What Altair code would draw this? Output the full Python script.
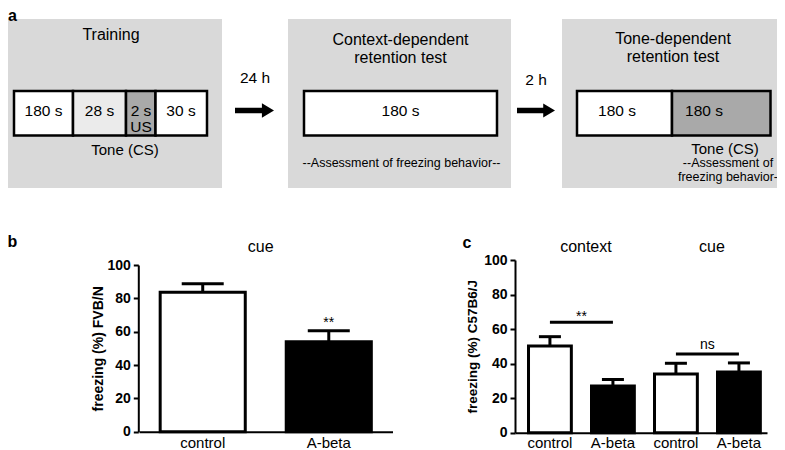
import altair as alt
import pandas as pd

FONT = "Liberation Sans"

# ------------------------------------------------------------------ data
# panel b : FVB/N mice, cue test
b_condition = "cue"
b_groups = ["control", "A-beta"]
b_mean = [83.6, 54.0]
b_sem = [5.1, 6.6]
b_sig = ["", "**"]

# panel c : C57B6/J mice, context and cue tests
c_tests = ["context", "context", "cue", "cue"]
c_groups = ["control", "A-beta", "control", "A-beta"]
c_mean = [50.2, 27.0, 34.0, 35.2]
c_sem = [5.4, 3.8, 6.2, 5.2]
sig_tests = ["context", "cue"]
sig_labels = ["**", "ns"]
sig_levels = [64.0, 45.6]

y_ticks = [0, 20, 40, 60, 80, 100]

# panel a : protocol texts
stage_titles = [["Training"], ["Context-dependent", "retention test"],
                ["Tone-dependent", "retention test"]]
stage_segments = [["180 s", "28 s", "2 s", "30 s"], ["180 s"], ["180 s", "180 s"]]
stage_sublabels = [["", "", "US", ""], [""], ["", ""]]
stage_notes = [["Tone (CS)"], ["--Assessment of freezing behavior--"],
               ["Tone (CS)", "--Assessment of", "freezing behavior-"]]
intervals = ["24 h", "2 h"]
panel_letters = ["a", "b", "c"]

# ------------------------------------------------------------------ layout / style (page pixels)
W, H = 769, 442
PANEL_X = [(0, 222), (288, 511), (562, 785)]
PANEL_Y = (19, 188)
SEG_EDGES = [[14, 73, 126, 155.5, 207], [304, 497], [577, 672, 770.5]]
SEG_Y = (91, 135.5)
SEG_FILLS = [["#ffffff", "#ebebeb", "#a9a9a9", "#ffffff"], ["#ffffff"], ["#ffffff", "#a9a9a9"]]
SEG_TEXT_X = [[43.5, 99.5, 141, 181], [400.5], [617, 704]]
SEG_TEXT_Y, SUB_Y = 110.5, 127
TITLE_X = [111, 400.5, 673]
TITLE_Y = [[35], [40, 58.3], [38.5, 56.7]]
NOTE_POS = [[(125, 150, 15)], [(401.5, 163, 12.5)],
            [(725, 149, 15), (728, 163, 12.5), (728, 176.5, 12.5)]]
ARROW_X = [(235, 274), (517, 555)]
ARROW_Y = 110.5
INTERVAL_POS = [(255, 78), (536, 80)]
LETTER_POS = [(12.5, 16), (12.5, 242), (467, 243)]
ARROW_PATH = "M-1,-0.14L0.38,-0.14L0.38,-0.37L1,0L0.38,0.37L0.38,0.14L-1,0.14Z"
TXT = 15.5

PX = alt.Scale(domain=[8, 8 + W], range=[0, W], nice=False, zero=False)
PY = alt.Scale(domain=[8, 8 + H], range=[0, H], nice=False, zero=False)

# ------------------------------------------------------------------ panel a (schematic)
panels = pd.DataFrame({"x0": [p[0] for p in PANEL_X], "x1": [p[1] for p in PANEL_X],
                       "y0": PANEL_Y[0], "y1": PANEL_Y[1]})
seg_rows, text_rows = [], []
for i, segs in enumerate(stage_segments):
    edges = SEG_EDGES[i]
    for j, lab in enumerate(segs):
        seg_rows.append({"x0": edges[j], "x1": edges[j + 1], "y0": SEG_Y[0], "y1": SEG_Y[1],
                         "fill": SEG_FILLS[i][j]})
        text_rows.append({"text": lab, "x": SEG_TEXT_X[i][j], "y": SEG_TEXT_Y, "size": TXT})
        if stage_sublabels[i][j]:
            text_rows.append({"text": stage_sublabels[i][j], "x": SEG_TEXT_X[i][j], "y": SUB_Y, "size": TXT})
    for k, t in enumerate(stage_titles[i]):
        text_rows.append({"text": t, "x": TITLE_X[i], "y": TITLE_Y[i][k], "size": 16})
    for k, t in enumerate(stage_notes[i]):
        x, y, s = NOTE_POS[i][k]
        text_rows.append({"text": t, "x": x, "y": y, "size": s})
for k, t in enumerate(intervals):
    text_rows.append({"text": t, "x": INTERVAL_POS[k][0], "y": INTERVAL_POS[k][1], "size": TXT})
segs_df = pd.DataFrame(seg_rows)
texts_df = pd.DataFrame(text_rows)
arrows_df = pd.DataFrame({"x": [(a + b) / 2 for a, b in ARROW_X], "y": ARROW_Y,
                          "size": [(b - a) ** 2 for a, b in ARROW_X]})
letters_df = pd.DataFrame({"text": panel_letters, "x": [p[0] for p in LETTER_POS],
                           "y": [p[1] for p in LETTER_POS]})

px = lambda f: alt.X(f, type="quantitative", scale=PX, axis=None)
py = lambda f: alt.Y(f, type="quantitative", scale=PY, axis=None)

grey = alt.Chart(panels).mark_rect(fill="#d9d9d9").encode(
    x=px("x0"), x2="x1", y=py("y0"), y2="y1")
boxes = alt.Chart(segs_df).mark_rect(stroke="black", strokeWidth=2.5).encode(
    x=px("x0"), x2="x1", y=py("y0"), y2="y1", fill=alt.Fill("fill:N", scale=None))
labels = alt.Chart(texts_df).mark_text(font=FONT, color="black", align="center",
                                       baseline="middle").encode(
    x=px("x"), y=py("y"), text="text:N", size=alt.Size("size:Q", scale=None))
arrows = alt.Chart(arrows_df).mark_point(shape=ARROW_PATH, filled=True, color="black",
                                         opacity=1, strokeWidth=0).encode(
    x=px("x"), y=py("y"), size=alt.Size("size:Q", scale=None))
letters = alt.Chart(letters_df).mark_text(font=FONT, color="black", fontSize=16,
                                          fontWeight="bold", align="center",
                                          baseline="middle").encode(
    x=px("x"), y=py("y"), text="text:N")
diagram = alt.layer(grey, boxes, labels, arrows, letters)


# ------------------------------------------------------------------ bar panels
def y_axis(offset, title, tx, ty, tsize):
    return alt.Axis(orient="left", offset=offset, values=y_ticks, grid=False,
                    domainColor="black", domainWidth=2, tickColor="black", tickWidth=2,
                    tickSize=5, labelFont=FONT, labelFontSize=14, labelFontWeight="bold",
                    labelColor="black", labelPadding=3, title=title, titleFont=FONT,
                    titleFontSize=tsize, titleFontWeight="bold", titleColor="black",
                    titleAngle=-90, titleX=tx, titleY=ty, titleAlign="center",
                    titleBaseline="middle")


def x_axis(offset, pad, expr=None):
    kw = dict(orient="bottom", offset=offset, ticks=False, grid=False, domainColor="black",
              domainWidth=2, labelFont=FONT, labelFontSize=15, labelColor="black",
              labelAngle=0, labelPadding=pad, title=None)
    if expr:
        kw["labelExpr"] = expr
    return alt.Axis(**kw)


# panel b
B_Y0, B_Y100 = 431.7 - 8, 265 - 8
B_XSCALE = alt.Scale(domain=b_groups, range=[139 - 8, 392.5 - 8],
                     paddingInner=0.325, paddingOuter=0.168, align=0.5)
B_YSCALE = alt.Scale(domain=[0, 100], range=[B_Y0, B_Y100], nice=False, zero=False)
B_XAX = x_axis(-(H - B_Y0), 4)
B_YAX = y_axis(-(138.3 - 8), "freezing (%) FVB/N", -40, (B_Y0 + B_Y100) / 2, 14)
df_b = pd.DataFrame({"group": b_groups, "mean": b_mean,
                     "top": [m + s for m, s in zip(b_mean, b_sem)],
                     "sig": b_sig, "fill": ["white", "black"]})
bx = alt.X("group:N", scale=B_XSCALE, axis=B_XAX)

bars_b = alt.Chart(df_b).mark_bar(stroke="black", strokeWidth=3).encode(
    x=bx, y=alt.Y("mean:Q", scale=B_YSCALE, axis=B_YAX),
    fill=alt.Fill("fill:N", scale=None))
err_b = alt.Chart(df_b).mark_rule(color="black", strokeWidth=3).encode(
    x=bx, y=alt.Y("mean:Q", scale=B_YSCALE, axis=B_YAX), y2="top:Q")
cap_b = alt.Chart(df_b).mark_tick(color="black", thickness=3, size=42,
                                  orient="horizontal", opacity=1).encode(
    x=bx, y=alt.Y("top:Q", scale=B_YSCALE, axis=B_YAX))
star_b = alt.Chart(df_b).mark_text(font=FONT, fontSize=14, color="black",
                                   baseline="alphabetic", dy=-4).encode(
    x=bx, y=alt.Y("top:Q", scale=B_YSCALE, axis=B_YAX), text="sig:N")
head_b = alt.Chart(pd.DataFrame({"group": [b_groups[0]], "label": [b_condition]})).mark_text(
    font=FONT, fontSize=16, color="black", baseline="middle", dx=58).encode(
    x=bx, y=alt.value(246.7 - 8), text="label:N")
panel_b = alt.layer(bars_b, err_b, cap_b, star_b, head_b)

# panel c
C_Y0, C_Y100 = 432.7 - 8, 260 - 8
c_keys = [f"{t}|{g}" for t, g in zip(c_tests, c_groups)]
C_XSCALE = alt.Scale(domain=c_keys, range=[515 - 8, 767 - 8],
                     paddingInner=0.32, paddingOuter=0.16, align=0.67)
C_YSCALE = alt.Scale(domain=[0, 100], range=[C_Y0, C_Y100], nice=False, zero=False)
C_XAX = x_axis(-(H - C_Y0), 2.5, "split(datum.label, '|')[1]")
C_YAX = y_axis(-(515 - 8), "freezing (%) C57B6/J", -43, (C_Y0 + C_Y100) / 2, 13.5)
df_c = pd.DataFrame({"key": c_keys, "mean": c_mean,
                     "top": [m + s for m, s in zip(c_mean, c_sem)],
                     "fill": ["white" if g == "control" else "black" for g in c_groups]})
cx = alt.X("key:N", scale=C_XSCALE, axis=C_XAX)

bars_c = alt.Chart(df_c).mark_bar(stroke="black", strokeWidth=3).encode(
    x=cx, y=alt.Y("mean:Q", scale=C_YSCALE, axis=C_YAX),
    fill=alt.Fill("fill:N", scale=None))
err_c = alt.Chart(df_c).mark_rule(color="black", strokeWidth=3).encode(
    x=cx, y=alt.Y("mean:Q", scale=C_YSCALE, axis=C_YAX), y2="top:Q")
cap_c = alt.Chart(df_c).mark_tick(color="black", thickness=3, size=22,
                                  orient="horizontal", opacity=1).encode(
    x=cx, y=alt.Y("top:Q", scale=C_YSCALE, axis=C_YAX))

df_sig = pd.DataFrame({"key": [f"{t}|control" for t in sig_tests],
                       "k2": [f"{t}|A-beta" for t in sig_tests],
                       "level": sig_levels, "label": sig_labels})
sig_rule = alt.Chart(df_sig).mark_rule(color="black", strokeWidth=3).encode(
    x=cx, x2="k2:N", y=alt.Y("level:Q", scale=C_YSCALE, axis=C_YAX))
sig_star = alt.Chart(df_sig[df_sig.label == "**"]).mark_text(
    font=FONT, fontSize=14, color="black", baseline="alphabetic", dx=31.5, dy=-1).encode(
    x=cx, y=alt.Y("level:Q", scale=C_YSCALE, axis=C_YAX), text="label:N")
sig_ns = alt.Chart(df_sig[df_sig.label != "**"]).mark_text(
    font=FONT, fontSize=14, color="black", baseline="alphabetic", dx=31.5, dy=-5).encode(
    x=cx, y=alt.Y("level:Q", scale=C_YSCALE, axis=C_YAX), text="label:N")
head_df = pd.DataFrame({"key": [f"{t}|control" for t in sig_tests], "label": sig_tests})
head_c = alt.Chart(head_df).mark_text(font=FONT, fontSize=16, color="black",
                                      baseline="middle", dx=36).encode(
    x=cx, y=alt.value(246.7 - 8), text="label:N")
panel_c = alt.layer(bars_c, err_c, cap_c, sig_rule, sig_star, sig_ns, head_c)

chart = alt.layer(diagram, panel_b, panel_c).resolve_scale(
    x="independent", y="independent"
).properties(
    width=W, height=H, padding=0, autosize=alt.AutoSizeParams(type="none")
).configure_view(stroke=None)

chart.save("out.html", embed_options={"renderer": "svg", "actions": False})
